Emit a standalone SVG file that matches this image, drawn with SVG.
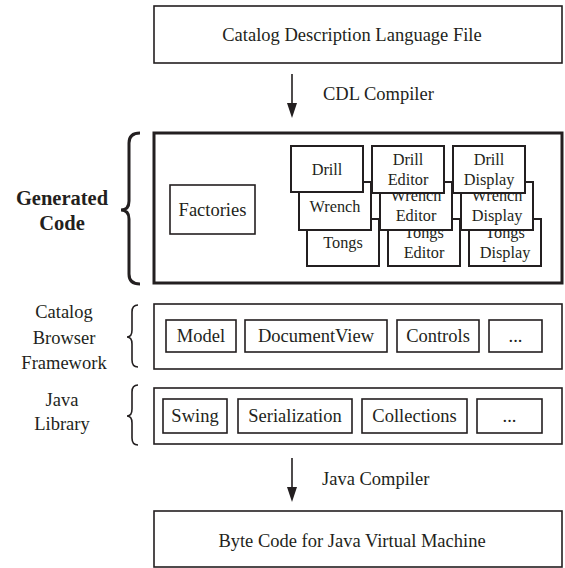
<svg xmlns="http://www.w3.org/2000/svg" width="565" height="568" viewBox="0 0 565 568" font-family="'Liberation Serif', 'DejaVu Serif', serif">
<style>
text{font-family:'Liberation Serif','DejaVu Serif',serif;fill:#231f20}
.t{font-size:18.5px}
.s{font-size:16.3px}
.b{font-size:20.5px;font-weight:bold}
.m{text-anchor:middle}
.box{fill:#fff;stroke:#231f20;stroke-width:1.6}
.sb{fill:#fff;stroke:#231f20;stroke-width:2}
.thick{fill:#fff;stroke:#231f20;stroke-width:3}
.brace{fill:none;stroke:#231f20;stroke-width:1.6}
.brace3{fill:none;stroke:#231f20;stroke-width:3}
.ln{stroke:#231f20;stroke-width:1.6}
.ah{fill:#231f20}
</style>

<g id="cdl-file">
<rect class="box" x="154" y="6" width="408" height="57"/>
<text class="t m" x="352" y="41">Catalog Description Language File</text>
</g>

<g id="connectors">
<line class="ln" x1="292" y1="74" x2="292" y2="104"/>
<path class="ah" d="M287,103 L297,103 L292,118 Z"/>
<text class="t" x="323" y="100">CDL Compiler</text>
<line class="ln" x1="292" y1="458" x2="292" y2="488"/>
<path class="ah" d="M287,487 L297,487 L292,502 Z"/>
<text class="t" x="322" y="485">Java Compiler</text>
</g>

<g id="generated-code">
<text class="b m" x="62" y="205">Generated</text>
<text class="b m" x="62" y="230">Code</text>
<path class="brace3" d="M140,133 Q129,133 129,143 L129,201 Q129,210 121,210 Q129,210 129,219 L129,274 Q129,284 140,284"/>
<rect class="thick" x="154" y="133" width="408" height="150"/>
</g>

<g id="factories">
<rect class="box" x="170" y="185" width="85" height="49"/>
<text class="t m" x="212.5" y="216">Factories</text>
</g>

<g id="tongs">
<rect class="sb" x="307" y="219" width="72" height="47"/>
<text class="s m" x="343" y="248">Tongs</text>
</g>
<g id="tongs-editor">
<rect class="sb" x="388" y="219" width="72" height="47"/>
<text class="s m" x="424" y="238">Tongs</text>
<text class="s m" x="424" y="258">Editor</text>
</g>
<g id="tongs-display">
<rect class="sb" x="469" y="219" width="72" height="47"/>
<text class="s m" x="505" y="238">Tongs</text>
<text class="s m" x="505" y="258">Display</text>
</g>

<g id="wrench">
<rect class="sb" x="299" y="182" width="72" height="48"/>
<text class="s m" x="335" y="212">Wrench</text>
</g>
<g id="wrench-editor">
<rect class="sb" x="380" y="182" width="72" height="48"/>
<text class="s m" x="416" y="201">Wrench</text>
<text class="s m" x="416" y="221">Editor</text>
</g>
<g id="wrench-display">
<rect class="sb" x="461" y="182" width="72" height="48"/>
<text class="s m" x="497" y="201">Wrench</text>
<text class="s m" x="497" y="221">Display</text>
</g>

<g id="drill">
<rect class="sb" x="291" y="146" width="72" height="46"/>
<text class="s m" x="327" y="175">Drill</text>
</g>
<g id="drill-editor">
<rect class="sb" x="372" y="146" width="72" height="47"/>
<text class="s m" x="408" y="165">Drill</text>
<text class="s m" x="408" y="185">Editor</text>
</g>
<g id="drill-display">
<rect class="sb" x="453" y="146" width="72" height="47"/>
<text class="s m" x="489" y="165">Drill</text>
<text class="s m" x="489" y="185">Display</text>
</g>

<g id="catalog-browser-framework">
<text class="t m" x="64" y="318">Catalog</text>
<text class="t m" x="64" y="344">Browser</text>
<text class="t m" x="64" y="369">Framework</text>
<path class="brace" d="M138,305 Q132,305 132,312 L132,330 Q132,337 127,337 Q132,337 132,344 L132,360 Q132,367 138,367"/>
<rect class="box" x="154" y="304" width="408" height="65"/>
</g>
<g id="model"><rect class="box" x="166" y="320" width="70" height="32"/><text class="t m" x="201" y="342">Model</text></g>
<g id="documentview"><rect class="box" x="245" y="320" width="142" height="32"/><text class="t m" x="316" y="342">DocumentView</text></g>
<g id="controls"><rect class="box" x="397" y="320" width="82" height="32"/><text class="t m" x="438" y="342">Controls</text></g>
<g id="cbf-more"><rect class="box" x="489" y="320" width="53" height="32"/><text class="t m" x="515.5" y="342">...</text></g>

<g id="java-library">
<text class="t m" x="62" y="406">Java</text>
<text class="t m" x="62" y="430">Library</text>
<path class="brace" d="M138,385 Q132,385 132,392 L132,409 Q132,416 127,416 Q132,416 132,423 L132,438 Q132,445 138,445"/>
<rect class="box" x="154" y="388" width="408" height="56"/>
</g>
<g id="swing"><rect class="box" x="163" y="399" width="64" height="34"/><text class="t m" x="195" y="422">Swing</text></g>
<g id="serialization"><rect class="box" x="238" y="399" width="114" height="34"/><text class="t m" x="295" y="422">Serialization</text></g>
<g id="collections"><rect class="box" x="362" y="399" width="105" height="34"/><text class="t m" x="414.5" y="422">Collections</text></g>
<g id="jl-more"><rect class="box" x="477" y="399" width="65" height="34"/><text class="t m" x="509.5" y="422">...</text></g>

<g id="byte-code">
<rect class="box" x="154" y="511" width="408" height="56"/>
<text class="t m" x="352" y="547">Byte Code for Java Virtual Machine</text>
</g>
</svg>
